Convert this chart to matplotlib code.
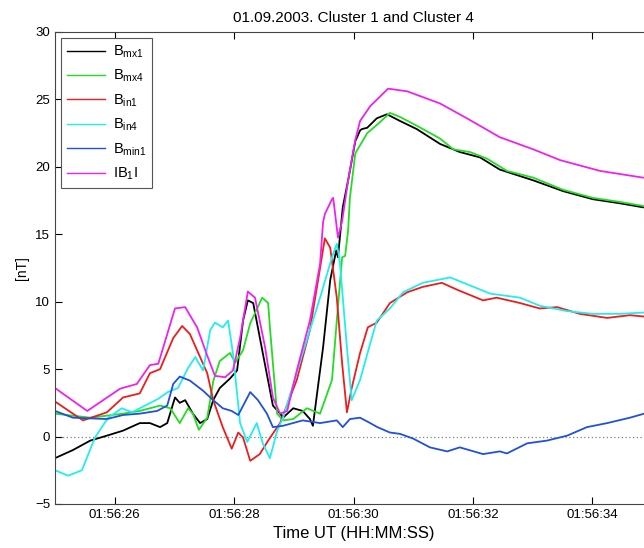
import matplotlib
matplotlib.use("Agg")
import matplotlib.pyplot as plt
from matplotlib.ticker import FixedLocator, FuncFormatter

# time in seconds after 01:56:00 UT, values in nT
t_mx1 = [25.00, 25.30, 25.59, 25.87, 26.14, 26.42, 26.59, 26.76, 26.88, 27.01, 27.09, 27.18,
         27.31, 27.43, 27.55, 27.65, 27.76, 27.93, 28.05, 28.15, 28.23, 28.32, 28.48, 28.65,
         28.77, 28.82, 28.99, 29.15, 29.27, 29.32, 29.39, 29.49, 29.61, 29.71, 29.74, 29.82,
         29.91, 30.03, 30.11, 30.14, 30.23, 30.39, 30.56, 30.78, 31.06, 31.45, 31.78, 32.12,
         32.45, 33.01, 33.51, 34.01, 34.46, 34.85]
b_mx1 = [-1.6, -1.0, -0.3, 0.07, 0.44, 1.0, 1.0, 0.7, 1.0, 2.9, 2.5, 2.7,
         1.7, 1.0, 1.3, 2.7, 3.6, 4.3, 4.9, 8.6, 10.1, 9.9, 6.2, 2.3,
         1.7, 1.4, 2.1, 1.9, 1.3, 0.8, 3.2, 6.6, 11.6, 13.8, 13.3, 17.0,
         19.0, 21.9, 22.7, 22.8, 22.9, 23.6, 23.9, 23.4, 22.8, 21.7, 21.1, 20.7,
         19.8, 19.0, 18.2, 17.6, 17.3, 17.0]

t_mx4 = [25.00, 25.59, 26.14, 26.42, 26.76, 26.93, 27.09, 27.23, 27.31, 27.41, 27.55, 27.65,
         27.76, 27.93, 28.02, 28.15, 28.27, 28.47, 28.57, 28.60, 28.72, 28.82, 28.99, 29.22,
         29.44, 29.64, 29.72, 29.81, 29.86, 29.91, 29.94, 30.03, 30.23, 30.44, 30.61, 30.78,
         31.06, 31.45, 31.67, 31.95, 32.24, 32.57, 33.01, 33.51, 34.01, 34.46, 34.85]
b_mx4 = [1.7, 1.4, 1.7, 1.9, 2.3, 2.1, 1.0, 2.1, 1.7, 0.5, 1.4, 4.1,
         5.6, 6.2, 5.5, 6.4, 8.4, 10.3, 9.9, 8.1, 1.7, 1.2, 1.3, 2.1,
         1.7, 4.2, 8.6, 13.3, 13.4, 15.3, 17.7, 21.0, 22.5, 23.3, 24.0, 23.7,
         23.05, 22.1, 21.3, 21.1, 20.6, 19.7, 19.2, 18.3, 17.7, 17.4, 17.1]

t_in1 = [25.00, 25.30, 25.47, 25.87, 26.14, 26.42, 26.59, 26.76, 26.98, 27.13, 27.26, 27.43,
         27.55, 27.65, 27.81, 27.96, 28.07, 28.15, 28.27, 28.43, 28.57, 28.77, 29.05, 29.27,
         29.44, 29.52, 29.61, 29.72, 29.81, 29.89, 29.97, 30.11, 30.24, 30.39, 30.61, 30.90,
         31.16, 31.48, 31.73, 32.17, 32.40, 32.79, 33.12, 33.41, 33.79, 34.25, 34.63, 34.87]
b_in1 = [2.6, 1.7, 1.2, 1.8, 2.9, 3.2, 4.7, 5.0, 7.3, 8.2, 7.6, 5.9,
         4.7, 2.7, 0.7, -0.9, 0.3, -0.07, -1.8, -1.3, -0.3, 1.0, 4.2, 7.9,
         12.5, 14.7, 14.0, 10.3, 5.4, 1.8, 3.6, 6.2, 8.1, 8.45, 9.9, 10.7,
         11.1, 11.4, 10.9, 10.1, 10.3, 9.9, 9.5, 9.6, 9.1, 8.8, 9.0, 8.9]

t_in4 = [25.00, 25.22, 25.45, 25.67, 25.89, 26.12, 26.29, 26.51, 26.73, 26.89, 27.06, 27.23,
         27.35, 27.48, 27.60, 27.68, 27.81, 27.90, 27.98, 28.10, 28.22, 28.38, 28.48, 28.60,
         28.72, 28.82, 29.15, 29.44, 29.64, 29.72, 29.77, 29.89, 29.97, 30.11, 30.28, 30.39,
         30.61, 30.83, 31.16, 31.62, 31.90, 32.29, 32.79, 33.12, 33.58, 34.01, 34.46, 34.87]
b_in4 = [-2.5, -2.9, -2.5, -0.07, 1.4, 2.1, 1.8, 2.3, 2.8, 3.3, 3.6, 5.1,
         5.9, 4.9, 7.9, 8.45, 8.1, 8.6, 6.2, 1.0, -0.4, 1.0, -0.5, -1.6,
         0.4, 1.4, 6.2, 10.3, 13.3, 14.3, 13.0, 6.6, 2.7, 4.2, 6.9, 8.6,
         9.5, 10.7, 11.4, 11.8, 11.3, 10.6, 10.3, 9.7, 9.3, 9.1, 9.1, 9.2]

t_min1 = [25.00, 25.30, 25.87, 26.14, 26.42, 26.71, 26.88, 26.98, 27.09, 27.26, 27.48, 27.65,
          27.81, 27.96, 28.07, 28.27, 28.40, 28.55, 28.65, 28.82, 29.15, 29.44, 29.72, 29.82,
          29.94, 30.11, 30.28, 30.40, 30.61, 30.78, 31.00, 31.28, 31.57, 31.78, 32.17, 32.45,
          32.57, 32.91, 33.24, 33.58, 33.91, 34.25, 34.63, 34.87]
b_min1 = [1.9, 1.4, 1.3, 1.6, 1.7, 1.9, 2.3, 3.9, 4.45, 4.15, 3.4, 2.7,
          2.1, 1.9, 1.6, 3.3, 2.7, 1.7, 0.7, 0.8, 1.2, 1.0, 1.2, 0.7,
          1.3, 1.4, 1.0, 0.7, 0.3, 0.2, -0.15, -0.8, -1.1, -0.8, -1.3, -1.1,
          -1.25, -0.5, -0.3, 0.07, 0.7, 1.0, 1.4, 1.7]

t_b1 = [25.00, 25.54, 26.09, 26.37, 26.59, 26.73, 27.01, 27.18, 27.38, 27.55, 27.68, 27.85,
        27.98, 28.10, 28.23, 28.35, 28.52, 28.65, 28.77, 28.89, 29.05, 29.27, 29.44, 29.49,
        29.52, 29.64, 29.66, 29.74, 29.81, 29.91, 30.03, 30.11, 30.28, 30.58, 30.90, 31.45,
        31.90, 32.45, 33.01, 33.46, 34.13, 34.85]
b_b1 = [3.6, 1.9, 3.55, 3.9, 5.3, 5.4, 9.5, 9.6, 8.1, 6.0, 4.5, 4.4,
        4.9, 7.3, 10.75, 10.3, 6.6, 2.9, 1.7, 1.9, 4.9, 8.6, 12.8, 15.9,
        16.5, 17.6, 17.7, 14.75, 16.0, 19.0, 22.0, 23.4, 24.5, 25.8, 25.6, 24.7,
        23.6, 22.2, 21.3, 20.5, 19.7, 19.2]

plt.rcParams['font.family'] = ['Liberation Sans', 'DejaVu Sans']
plt.rcParams['mathtext.fontset'] = 'custom'
plt.rcParams['mathtext.rm'] = 'Liberation Sans'
plt.rcParams['mathtext.it'] = 'Liberation Sans'

fig = plt.figure(figsize=(6.44, 5.48), dpi=100)
ax = fig.add_axes([55/644, 44/548, 597/644, 472/548])

lw = 1.3
ax.plot(t_mx1, b_mx1, color='black', lw=lw, label=r'$\mathrm{B_{mx1}}$')
ax.plot(t_mx4, b_mx4, color='#22dd22', lw=lw, label=r'$\mathrm{B_{mx4}}$')
ax.plot(t_in1, b_in1, color='#ee1c1c', lw=lw, label=r'$\mathrm{B_{in1}}$')
ax.plot(t_in4, b_in4, color='#22eeee', lw=lw, label=r'$\mathrm{B_{in4}}$')
ax.plot(t_min1, b_min1, color='#2050dd', lw=lw, label=r'$\mathrm{B_{min1}}$')
ax.plot(t_b1, b_b1, color='#ee22ee', lw=lw, label=r'$\mathrm{IB_{1}I}$')
ax.axhline(0, color='gray', ls=(0, (1, 2)), lw=0.9, zorder=0)

ax.set_xlim(25, 35)
ax.set_ylim(-5, 30)
ax.set_yticks(range(-5, 31, 5))
ax.xaxis.set_major_locator(FixedLocator([26, 28, 30, 32, 34]))
ax.xaxis.set_major_formatter(FuncFormatter(lambda v, p: "01:56:%02d" % int(round(v))))
ax.tick_params(direction='in', top=True, right=True, labelsize=9.5, length=5, width=0.8)
for s in ax.spines.values():
    s.set_color('#444444')
    s.set_linewidth(0.8)

ax.set_title("01.09.2003. Cluster 1 and Cluster 4", fontsize=11, pad=7)
ax.set_xlabel("Time UT (HH:MM:SS)", fontsize=12)
ax.set_ylabel("[nT]", fontsize=10)

leg = ax.legend(loc='upper left', fontsize=10.5, fancybox=False, framealpha=1,
                edgecolor='#555555', handlelength=2.6, handletextpad=0.55,
                borderaxespad=0.4, labelspacing=0.55)
leg.get_frame().set_linewidth(0.8)
for line in leg.get_lines():
    line.set_linewidth(1.0)

fig.savefig("out.png", dpi=100)
